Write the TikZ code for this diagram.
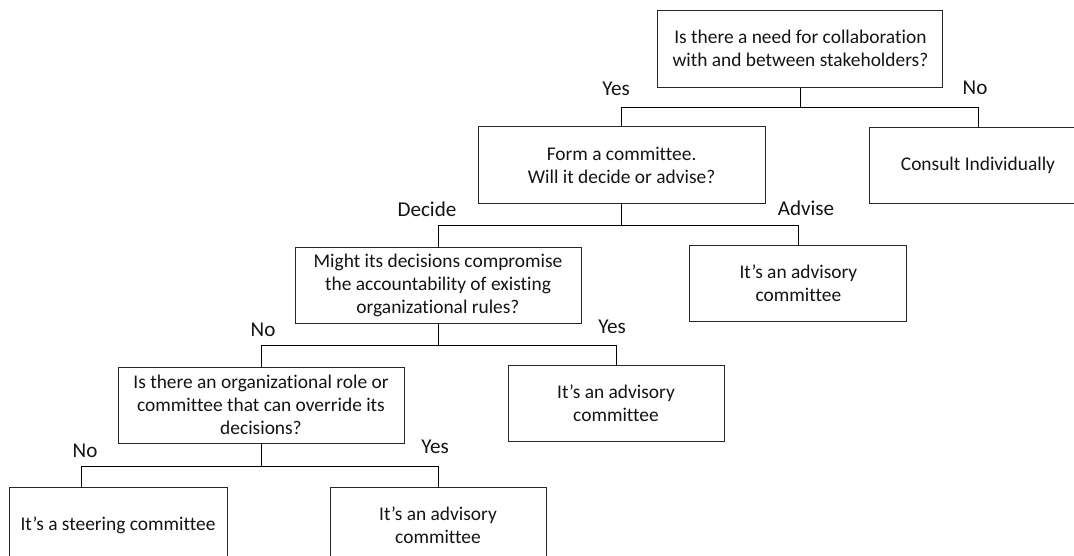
\documentclass[tikz,border=0pt]{standalone}
\usepackage{fontspec}
\setmainfont{Carlito}[Ligatures=NoCommon]
\usepackage{tikz}
\usetikzlibrary{positioning, calc}
\usepackage{xcolor}
\definecolor{boxline}{RGB}{40,40,40}
\definecolor{textgray}{RGB}{20,20,20}

\begin{document}
\begin{tikzpicture}[
  ask/.style={draw=boxline, line width=0.6pt, font=\fontsize{13.8}{16.4}\selectfont, text=textgray, align=center, inner sep=2pt, minimum width=7.15cm, minimum height=1.9cm},
  result/.style={ask, minimum width=5.425cm},
  answer/.style={font=\fontsize{15}{18}\selectfont, text=textgray, inner sep=0pt},
  link/.style={draw=black, line width=0.65pt},
]
\useasboundingbox (0,0) rectangle (26.85,13.875);
\clip (0,0) rectangle (26.85,13.875);

% === Top question ===
\node[ask, minimum width=7.125cm, minimum height=1.925cm] (need) at (20.01, 12.66) {Is there a need for collaboration\\with and between stakeholders?};
\node[ask, minimum width=7.175cm, minimum height=1.925cm] (form) at (15.54, 9.74) {Form a committee.\\Will it decide or advise?};
\node[result, minimum width=5.45cm] (consult) at (24.45, 9.75) {Consult Individually};
\draw[link] (need.south) -- ++(0,-0.5) -| (form.north);
\draw[link] (need.south) ++(0,-0.5) -| (consult.north);
\node[answer] at (15.4, 11.65) {Yes};
\node[answer] at (24.375, 11.675) {No};

% === Decide or advise ===
\node[ask] (compromise) at (10.95, 6.75) {Might its decisions compromise\\the accountability of existing\\organizational rules?};
\node[result] (advise1) at (19.96, 6.8) {It’s an advisory\\committee};
\draw[link] (form.south) -- ++(0,-0.525) -| (compromise.north);
\draw[link] (form.south) ++(0,-0.525) -| (advise1.north);
\node[answer] at (10.675, 8.65) {Decide};
\node[answer] at (20.15, 8.675) {Advise};

% === Accountability ===
\node[ask] (override) at (6.525, 3.75) {Is there an organizational role or\\committee that can override its\\decisions?};
\node[result, minimum width=5.4cm] (advise2) at (15.4, 3.79) {It’s an advisory\\committee};
\draw[link] (compromise.south) -- ++(0,-0.55) -| (override.north);
\draw[link] (compromise.south) ++(0,-0.55) -| (advise2.north);
\node[answer] at (6.575, 5.625) {No};
\node[answer] at (15.3, 5.7) {Yes};

% === Override ===
\node[result, minimum width=5.45cm] (steering) at (2.95, 0.75) {It’s a steering committee};
\node[result, minimum width=5.4cm] (advise3) at (10.95, 0.75) {It’s an advisory\\committee};
\draw[link] (override.south) -- ++(0,-0.575) -| ([xshift=1.825cm]steering.north west);
\draw[link] (override.south) ++(0,-0.575) -| (advise3.north);
\node[answer] at (2.125, 2.6) {No};
\node[answer] at (10.875, 2.7) {Yes};
\end{tikzpicture}
\end{document}
